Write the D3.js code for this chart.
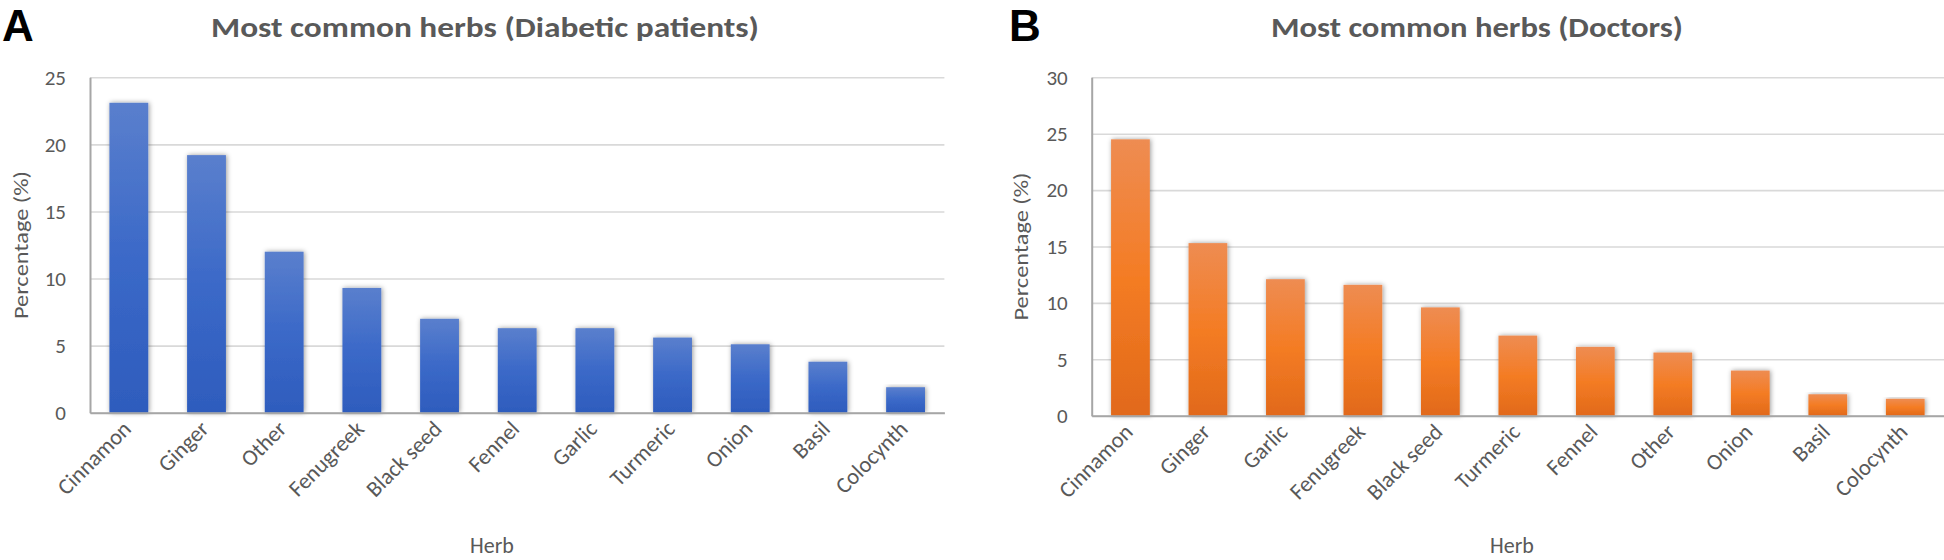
<!DOCTYPE html>
<html>
<head>
<meta charset="utf-8">
<script src="https://cdn.jsdelivr.net/npm/d3@7"></script>
<style>
  html, body { margin: 0; padding: 0; background: #fff; }
  svg { display: block; }
</style>
</head>
<body>
<svg id="chart" width="1944" height="560"></svg>
<script>
// ---- Data ----
const categoriesA = ["Cinnamon", "Ginger", "Other", "Fenugreek", "Black seed", "Fennel", "Garlic", "Turmeric", "Onion", "Basil", "Colocynth"];
const valuesA = [23.1, 19.2, 12.0, 9.3, 7.0, 6.3, 6.3, 5.6, 5.1, 3.8, 1.9];
const ticksA = [0, 5, 10, 15, 20, 25];

const categoriesB = ["Cinnamon", "Ginger", "Garlic", "Fenugreek", "Black seed", "Turmeric", "Fennel", "Other", "Onion", "Basil", "Colocynth"];
const valuesB = [24.5, 15.3, 12.1, 11.6, 9.6, 7.1, 6.1, 5.6, 4.0, 1.9, 1.5];
const ticksB = [0, 5, 10, 15, 20, 25, 30];

const titleA = "Most common herbs (Diabetic patients)";
const titleB = "Most common herbs (Doctors)";
const panelLetters = ["A", "B"];
const yAxisTitle = "Percentage (%)";
const xAxisTitle = "Herb";

// ---- Drawing ----
const FONT = "Carlito, Calibri, Lato, 'Open Sans', sans-serif";
const svg = d3.select("#chart");
const defs = svg.append("defs");

function gradient(id, stops) {
  const g = defs.append("linearGradient").attr("id", id)
    .attr("x1", 0).attr("y1", 0).attr("x2", 0).attr("y2", 1);
  stops.forEach(([o, c]) => g.append("stop").attr("offset", o).attr("stop-color", c));
}
gradient("gradBlue", [["0%", "#5a7fcd"], ["50%", "#3b69c8"], ["100%", "#2e5cbd"]]);
gradient("gradOrange", [["0%", "#ee8c52"], ["50%", "#f47c24"], ["100%", "#e1691a"]]);

const f = defs.append("filter").attr("id", "shadow")
  .attr("x", "-30%").attr("y", "-10%").attr("width", "160%").attr("height", "120%");
f.append("feDropShadow").attr("dx", 1).attr("dy", 0).attr("stdDeviation", 2.4)
  .attr("flood-color", "#000").attr("flood-opacity", 0.4);

function drawPanel(cfg) {
  const g = svg.append("g");
  const x = d3.scaleBand().domain(cfg.categories).range([cfg.left, cfg.right])
    .paddingInner(0.5).paddingOuter(0.25);
  const y = d3.scaleLinear().domain([0, d3.max(cfg.ticks)]).range([cfg.bottom, cfg.top]);

  // gridlines
  const grid = g.append("g").attr("transform", `translate(${cfg.left},0)`)
    .call(d3.axisLeft(y).tickValues(cfg.ticks).tickSize(-(cfg.right - cfg.left)).tickFormat(""));
  grid.select(".domain").remove();
  grid.selectAll(".tick line").attr("stroke", "#d9d9d9").attr("stroke-width", 1.6);

  // bars
  g.append("g").selectAll("rect").data(cfg.values).join("rect")
    .attr("x", (d, i) => x(cfg.categories[i]))
    .attr("y", d => y(d))
    .attr("width", x.bandwidth())
    .attr("height", d => y(0) - y(d))
    .attr("fill", `url(#${cfg.grad})`)
    .attr("filter", "url(#shadow)");

  // y axis
  const ya = g.append("g").attr("transform", `translate(${cfg.left},0)`)
    .call(d3.axisLeft(y).tickValues(cfg.ticks).tickSize(0).tickPadding(24));
  ya.select(".domain").attr("stroke", "#a6a6a6").attr("stroke-width", 2);
  ya.selectAll("text").attr("font-family", FONT).attr("font-size", 21).attr("fill", "#595959");

  // x axis
  const xa = g.append("g").attr("transform", `translate(0,${cfg.bottom})`)
    .call(d3.axisBottom(x).tickSize(0).tickPadding(0));
  xa.select(".domain").attr("stroke", "#a6a6a6").attr("stroke-width", 2);
  xa.selectAll("text")
    .attr("font-family", FONT).attr("font-size", 22.5).attr("fill", "#595959")
    .attr("text-anchor", "end")
    .attr("x", 0).attr("y", 0).attr("dy", "0.35em")
    .attr("transform", "translate(-2,12) rotate(-45)");

  // titles
  g.append("text").attr("x", cfg.titleX).attr("y", 37)
    .attr("text-anchor", "middle").attr("font-family", FONT).attr("font-weight", "bold")
    .attr("font-size", 29).attr("fill", "#595959")
    .attr("textLength", cfg.titleLen).attr("lengthAdjust", "spacingAndGlyphs")
    .text(cfg.title);

  g.append("text").attr("x", cfg.letterX).attr("y", 41)
    .attr("font-family", "'Liberation Sans', Arial, sans-serif").attr("font-weight", "bold")
    .attr("font-size", 44).attr("fill", "#000").text(cfg.letter);

  g.append("text")
    .attr("transform", `translate(${cfg.yTitleX},${(cfg.top + cfg.bottom) / 2}) rotate(-90)`)
    .attr("text-anchor", "middle").attr("font-family", FONT)
    .attr("font-size", 21).attr("fill", "#595959")
    .attr("textLength", 148).attr("lengthAdjust", "spacingAndGlyphs")
    .text(yAxisTitle);

  g.append("text").attr("x", cfg.xTitleX).attr("y", 553)
    .attr("text-anchor", "middle").attr("font-family", FONT)
    .attr("font-size", 22).attr("fill", "#595959")
    .text(xAxisTitle);
}

drawPanel({
  categories: categoriesA, values: valuesA, ticks: ticksA, grad: "gradBlue",
  left: 90, right: 944.4, top: 77.3, bottom: 412.7,
  title: titleA, titleX: 485, titleLen: 548, letter: panelLetters[0], letterX: 2,
  yTitleX: 28, xTitleX: 492
});
drawPanel({
  categories: categoriesB, values: valuesB, ticks: ticksB, grad: "gradOrange",
  left: 1091.7, right: 1944, top: 77.3, bottom: 415.7,
  title: titleB, titleX: 1477, titleLen: 412, letter: panelLetters[1], letterX: 1009,
  yTitleX: 1028, xTitleX: 1512
});
</script>
</body>
</html>
